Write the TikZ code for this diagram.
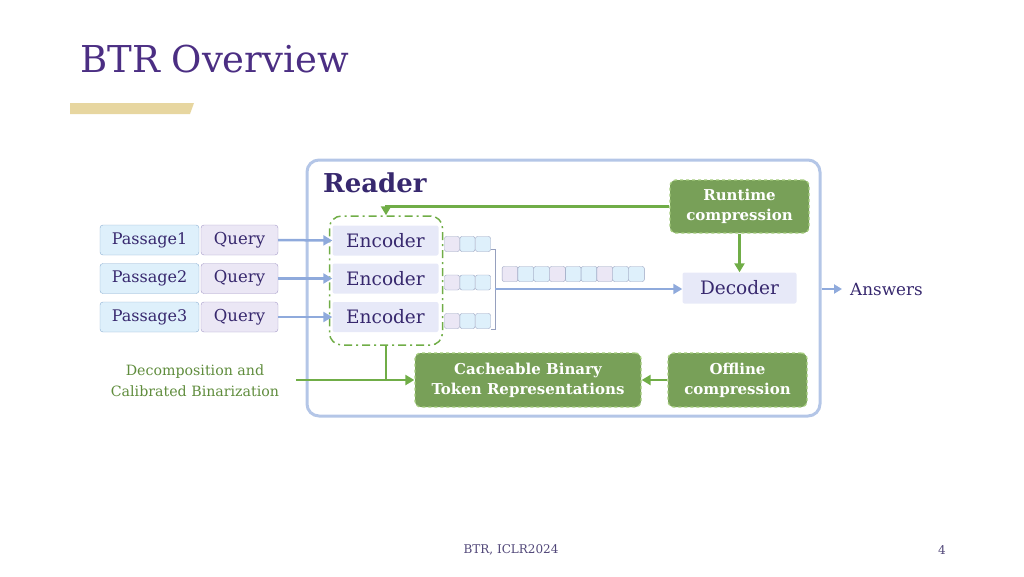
\documentclass[tikz,border=0pt]{standalone}
\usepackage{fontspec}
\setmainfont{DejaVu Serif}
\usetikzlibrary{arrows.meta}
\definecolor{titlepurple}{RGB}{75,46,131}
\definecolor{txtpurple}{RGB}{55,40,110}
\definecolor{footc}{RGB}{80,70,120}
\definecolor{gold}{RGB}{231,214,160}
\definecolor{readerblue}{RGB}{180,198,231}
\definecolor{arrowblue}{RGB}{143,170,220}
\definecolor{gline}{RGB}{112,173,71}
\definecolor{gfill}{RGB}{120,160,88}
\definecolor{gborder}{RGB}{165,205,125}
\definecolor{pfill}{RGB}{222,240,251}
\definecolor{pdraw}{RGB}{140,175,210}
\definecolor{qfill}{RGB}{235,231,245}
\definecolor{qdraw}{RGB}{165,155,200}
\definecolor{tdraw}{RGB}{150,160,190}
\definecolor{efill}{RGB}{231,233,248}
\definecolor{gtext}{RGB}{95,140,60}
\begin{document}
\begin{tikzpicture}[x=1pt,y=-1pt,
  passage/.style={draw=pdraw, fill=pfill, rounded corners=3pt, minimum width=99pt, minimum height=30pt, inner sep=0pt, font=\fontsize{16}{18}\selectfont, text=txtpurple},
  query/.style={draw=qdraw, fill=qfill, rounded corners=3pt, minimum width=77pt, minimum height=30pt, inner sep=0pt, font=\fontsize{16.5}{18}\selectfont, text=txtpurple},
  enc/.style={fill=efill, rounded corners=2pt, minimum width=106pt, minimum height=30pt, inner sep=0pt, font=\fontsize{18.5}{20}\selectfont, text=txtpurple},
  tokP/.style={draw=tdraw, fill=qfill, rounded corners=2pt, minimum size=15pt, inner sep=0pt},
  tokB/.style={draw=tdraw, fill=pfill, rounded corners=2pt, minimum size=15pt, inner sep=0pt},
  gbox/.style={fill=gfill, draw=gborder, dashed, line width=1.3pt, rounded corners=6pt, font=\bfseries\fontsize{15}{20}\selectfont, text=white, align=center, inner sep=0pt},
  barrow/.style={draw=arrowblue, line width=2.5pt, -{Triangle[length=9pt,width=10pt]}},
  garrow/.style={draw=gline, line width=2.5pt, -{Triangle[length=9pt,width=10pt]}},
  bracket/.style={draw=tdraw, line width=0.8pt}
]
\useasboundingbox (0,0) rectangle (1024,576);

% title
\node[anchor=base west, font=\fontsize{37}{40}\selectfont, text=titlepurple, inner sep=0pt] (title) at (80,72) {BTR Overview};
\fill[gold] (70,103) -- (194,103) -- (190,114) -- (70,114) -- cycle;

% reader frame
\node[draw=readerblue, line width=3pt, rounded corners=12pt, minimum width=513pt, minimum height=256pt, inner sep=0pt] (reader) at (563.5,288) {};
\node[anchor=base west, font=\bfseries\fontsize{26}{28}\selectfont, text=txtpurple, inner sep=0pt] (readerlbl) at (323,192) {Reader};

% passages and queries
\node[passage] (p1) at (149.5,240) {Passage1};
\node[passage] (p2) at (149.5,278.5) {Passage2};
\node[passage] (p3) at (149.5,317) {Passage3};
\node[query] (q1) at (239.5,240) {Query};
\node[query] (q2) at (239.5,278.5) {Query};
\node[query] (q3) at (239.5,317) {Query};

% encoder group
\node[draw=gline, line width=1.5pt, dash pattern=on 8pt off 4pt on 2pt off 4pt, rounded corners=12pt, minimum width=113pt, minimum height=129pt, inner sep=0pt] (grp) at (386,280.5) {};
\node[enc] (e1) at (385.5,240.5) {Encoder};
\node[enc] (e2) at (385.5,278.5) {Encoder};
\node[enc] (e3) at (385.5,317) {Encoder};

\draw[barrow] (q1.east) -- (e1.west);
\draw[barrow] (q2.east) -- (e2.west);
\draw[barrow] (q3.east) -- (e3.west);

% token groups
\foreach \r/\yy in {1/244,2/282.5,3/321}{
  \node[tokP] (t\r1) at (452,\yy) {};
  \node[tokB] (t\r2) at (467.5,\yy) {};
  \node[tokB] (t\r3) at (483,\yy) {};
}
\coordinate (brtop) at (495,249);
\coordinate (brbot) at (495,329);
\coordinate (brmid) at (495,289);
\draw[bracket] (t13.east |- brtop) -- (brtop) -- (brbot) -- (t33.east |- brbot);

% concatenated tokens
\foreach \i/\s in {1/tokP,2/tokB,3/tokB,4/tokP,5/tokB,6/tokB,7/tokP,8/tokB,9/tokB}{
  \node[\s, minimum width=15.8pt] (c\i) at ({494.2+15.8*\i},274) {};
}

% decoder and runtime
\node[enc, minimum width=114pt, minimum height=31pt] (decoder) at (739.5,288) {Decoder};
\node[gbox, minimum width=139pt, minimum height=53pt] (runtime) at (739.5,206.5) {Runtime\\compression};
\draw[barrow] (brmid) -- (decoder.west |- brmid);
\draw[garrow] (runtime.west) -| (grp.north);
\draw[garrow] (runtime.south) -- (decoder.north);

% answers
\node[anchor=west, font=\fontsize{16.8}{18}\selectfont, text=txtpurple, inner sep=0pt] (answers) at (850,289) {Answers};
\draw[draw=arrowblue, line width=2.5pt, -{Triangle[length=8pt,width=9pt]}] (reader.east |- answers) -- ([xshift=-8pt]answers.west);

% bottom boxes
\node[gbox, minimum width=226pt, minimum height=54pt] (cache) at (528,380) {Cacheable Binary\\Token Representations};
\node[gbox, minimum width=139pt, minimum height=54pt] (offline) at (737.5,380) {Offline\\compression};
\draw[garrow] (offline.west) -- (cache.east);

\node[align=center, text=gtext, font=\fontsize{14.2}{21}\selectfont, inner sep=0pt] (decomp) at (195,381) {Decomposition and\\Calibrated Binarization};
\coordinate (dstart) at (296,380);
\draw[garrow] (dstart) -- (cache.west);
\draw[draw=gline, line width=2.5pt] (grp.south) -- (grp.south |- cache.west);

% footer
\node[font=\fontsize{12}{14}\selectfont, text=footc, inner sep=0pt] (foot) at (511,550) {BTR, ICLR2024};
\node[font=\fontsize{12}{14}\selectfont, text=footc, inner sep=0pt] (page) at (942,550) {4};
\end{tikzpicture}
\end{document}
